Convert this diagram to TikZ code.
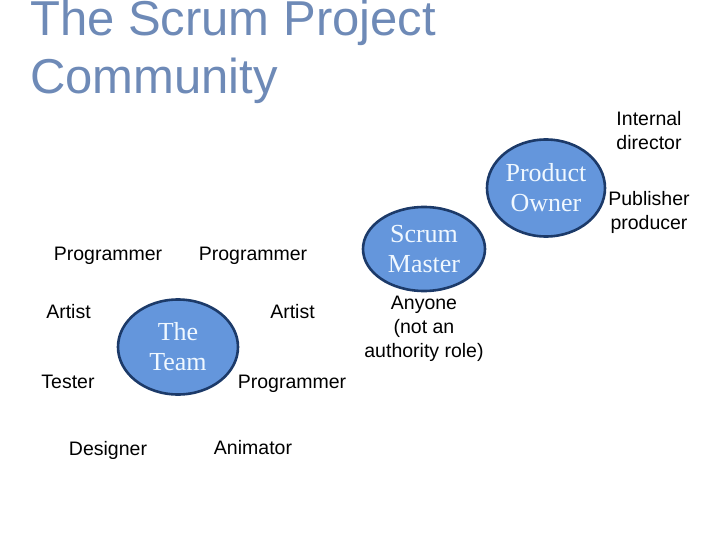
\documentclass[tikz,border=0pt]{standalone}
\usepackage{fontspec}
\setmainfont{Liberation Sans}
\newfontfamily\ellfont{Liberation Serif}
\usetikzlibrary{shapes.geometric}
\definecolor{titleblue}{RGB}{110,138,183}
\definecolor{ellfill}{RGB}{100,150,220}
\definecolor{elldraw}{RGB}{28,58,105}
\definecolor{elltext}{RGB}{240,248,255}
\tikzset{
  role/.style={anchor=base, inner sep=0pt, font=\fontsize{19.5}{24}\selectfont, text=black},
  rolelines/.style={anchor=north, inner sep=0pt, align=center, font=\fontsize{19.5}{24}\selectfont, text=black},
  group/.style={ellipse, draw=elldraw, line width=2.6pt, fill=ellfill, inner sep=0pt, align=center,
     text=elltext, font=\ellfont\fontsize{26}{30}\selectfont},
  titletext/.style={anchor=base west, inner sep=0pt, text=titleblue, font=\fontsize{49}{58}\selectfont}
}
\begin{document}
\begin{tikzpicture}[x=1pt,y=-1pt]
\useasboundingbox (0,0) rectangle (720,540);
\node[titletext] (t1) at (30,36) {The Scrum Project};
\node[titletext] (t2) at (30,94) {Community};

\node[group, minimum width=120pt, minimum height=95pt] (team) at (178,347) {The\\Team};
\node[group, minimum width=122pt, minimum height=84pt] (sm) at (424,249) {Scrum\\Master};
\node[group, minimum width=118pt, minimum height=97pt] (po) at (546,188) {Product\\Owner};

\node[role] (p1) at (108,260) {Programmer};
\node[role] (p2) at (253,260) {Programmer};
\node[role] (a1) at (68.5,318) {Artist};
\node[role] (a2) at (292.5,318) {Artist};
\node[role] (te) at (68,388) {Tester};
\node[role] (p3) at (292,388) {Programmer};
\node[role] (de) at (108,455) {Designer};
\node[role] (an) at (253,454) {Animator};

\node[rolelines] (any) at (424,296) {Anyone\\(not an\\authority role)};
\node[rolelines] (id) at (649,111) {Internal\\director};
\node[rolelines] (pp) at (649,191) {Publisher\\producer};
\end{tikzpicture}
\end{document}
